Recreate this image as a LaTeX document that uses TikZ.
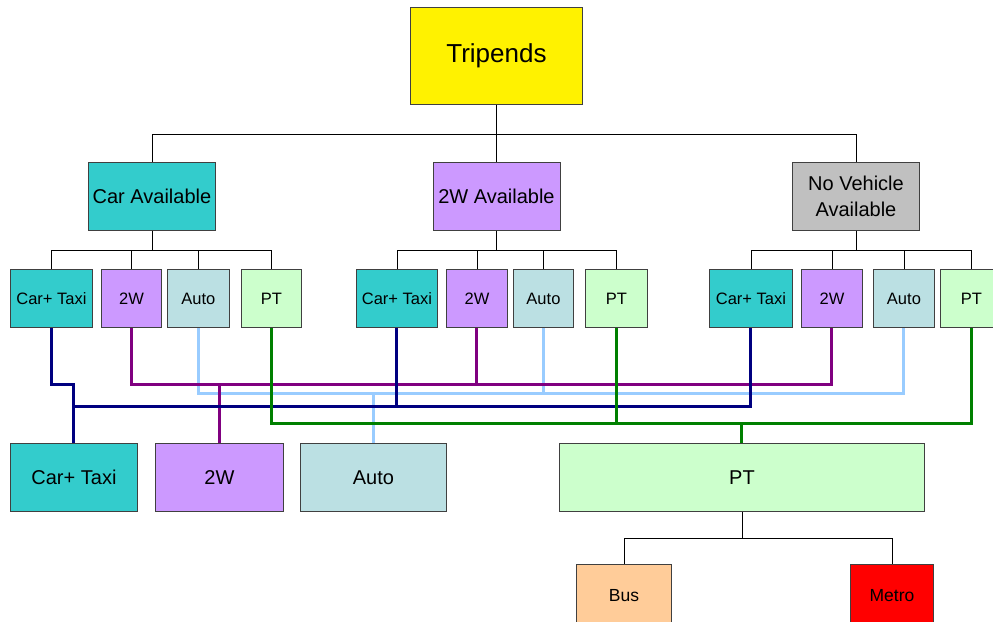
\documentclass[tikz,border=0pt]{standalone}
\usepackage{fontspec}
\setmainfont{Liberation Sans}
\definecolor{cyanf}{HTML}{33CCCC}
\definecolor{purf}{HTML}{CC99FF}
\definecolor{grayf}{HTML}{C0C0C0}
\definecolor{autof}{HTML}{BBE0E3}
\definecolor{ptf}{HTML}{CCFFCC}
\definecolor{busf}{HTML}{FFCC99}
\definecolor{navyl}{HTML}{000080}
\definecolor{purl}{HTML}{800080}
\definecolor{autol}{HTML}{99CCFF}
\definecolor{ptl}{HTML}{008000}
\begin{document}
\begin{tikzpicture}[x=1pt,y=-1pt,
  box/.style={draw=black!75,line width=0.9pt,inner sep=0pt,anchor=north west,align=center},
  big/.style={box,font=\fontsize{26}{30}\selectfont},
  mid/.style={box,font=\fontsize{20}{26}\selectfont},
  sm/.style={box,font=\fontsize{16.5}{19}\selectfont},
  bot/.style={box,font=\fontsize{20}{24}\selectfont},
  tiny/.style={box,font=\fontsize{17.5}{20}\selectfont},
  tree/.style={draw=black,line width=0.8pt},
  cl/.style={line width=3pt}]
\clip (0,0) rectangle (993,621);
\fill[white] (0,0) rectangle (993,621);
% top
\node[big,fill=yellow,minimum width=172pt,minimum height=97pt] (trip) at (410,7) {Tripends};
% middle
\node[mid,fill=cyanf,minimum width=127pt,minimum height=68pt] (carav) at (88,162) {Car Available};
\node[mid,fill=purf,minimum width=127pt,minimum height=68pt] (twav) at (432.5,162) {2W Available};
\node[mid,fill=grayf,minimum width=127pt,minimum height=68pt] (nvav) at (792,162) {No Vehicle\\Available};
% group 1
\node[sm,fill=cyanf,minimum width=82pt,minimum height=58pt] (ac) at (10,269) {Car+ Taxi};
\node[sm,fill=purf,minimum width=60pt,minimum height=58pt] (aw) at (101,269) {2W};
\node[sm,fill=autof,minimum width=62pt,minimum height=58pt] (aa) at (167,269) {Auto};
\node[sm,fill=ptf,minimum width=60pt,minimum height=58pt] (ap) at (241,269) {PT};
% group 2
\node[sm,fill=cyanf,minimum width=81pt,minimum height=58pt] (bc) at (356,269) {Car+ Taxi};
\node[sm,fill=purf,minimum width=61pt,minimum height=58pt] (bw) at (446,269) {2W};
\node[sm,fill=autof,minimum width=60pt,minimum height=58pt] (ba) at (513,269) {Auto};
\node[sm,fill=ptf,minimum width=62pt,minimum height=58pt] (bp) at (585,269) {PT};
% group 3
\node[sm,fill=cyanf,minimum width=83pt,minimum height=58pt] (cc) at (709,269) {Car+ Taxi};
\node[sm,fill=purf,minimum width=61pt,minimum height=58pt] (cw) at (801,269) {2W};
\node[sm,fill=autof,minimum width=61pt,minimum height=58pt] (ca) at (873,269) {Auto};
\node[sm,fill=ptf,minimum width=62pt,minimum height=58pt] (cp) at (940,269) {PT};
% bottom
\node[bot,fill=cyanf,minimum width=127pt,minimum height=68pt] (dc) at (10,443) {Car+ Taxi};
\node[bot,fill=purf,minimum width=128pt,minimum height=68pt] (dw) at (155,443) {2W};
\node[bot,fill=autof,minimum width=146pt,minimum height=68pt] (da) at (300,443) {Auto};
\node[bot,fill=ptf,minimum width=365pt,minimum height=68pt] (dp) at (559,443) {PT};
\node[tiny,fill=busf,minimum width=95pt,minimum height=62pt] (bus) at (576,564) {Bus};
\node[tiny,fill=red,minimum width=83pt,minimum height=62pt] (metro) at (850,564) {Metro};
% tree connectors
\draw[tree] (trip.south) -- ++(0,29) -| (carav.north);
\draw[tree] (trip.south) -- ++(0,29) -| (nvav.north);
\draw[tree] (trip.south) -- (twav.north);
\foreach \p/\k in {carav/a,twav/b,nvav/c}{
  \draw[tree] (\p.south) -- ++(0,19) -| (\k c.north);
  \draw[tree] (\p.south) -- ++(0,19) -| (\k w.north);
  \draw[tree] (\p.south) -- ++(0,19) -| (\k a.north);
  \draw[tree] (\p.south) -- ++(0,19) -| (\k p.north);
}
\draw[tree] (dp.south) -- ++(0,26) -| (bus.north);
\draw[tree] (dp.south) -- ++(0,26) -| (metro.north);
% coloured connectors
\coordinate (ypur) at (0,384);
\coordinate (yaut) at (0,393);
\coordinate (ynav) at (0,406);
\coordinate (ypt) at (0,423);
\draw[cl,autol] (aa.south) |- (ca.south |- yaut) -- (ca.south);
\draw[cl,autol] (ba.south) -- (ba.south |- yaut);
\draw[cl,autol] (da.north) -- (da.north |- yaut);
\draw[cl,purl] (aw.south) |- (cw.south |- ypur) -- (cw.south);
\draw[cl,purl] (bw.south) -- (bw.south |- ypur);
\draw[cl,purl] (dw.north) -- (dw.north |- ypur);
\draw[cl,navyl] (ac.south) |- (dc.north |- ypur) -- (dc.north);
\draw[cl,navyl] (dc.north |- ynav) -| (cc.south);
\draw[cl,navyl] (bc.south) -- (bc.south |- ynav);
\draw[cl,ptl] (ap.south) |- (cp.south |- ypt) -- (cp.south);
\draw[cl,ptl] (bp.south) -- (bp.south |- ypt);
\draw[cl,ptl] (dp.north) -- (dp.north |- ypt);
\end{tikzpicture}
\end{document}
